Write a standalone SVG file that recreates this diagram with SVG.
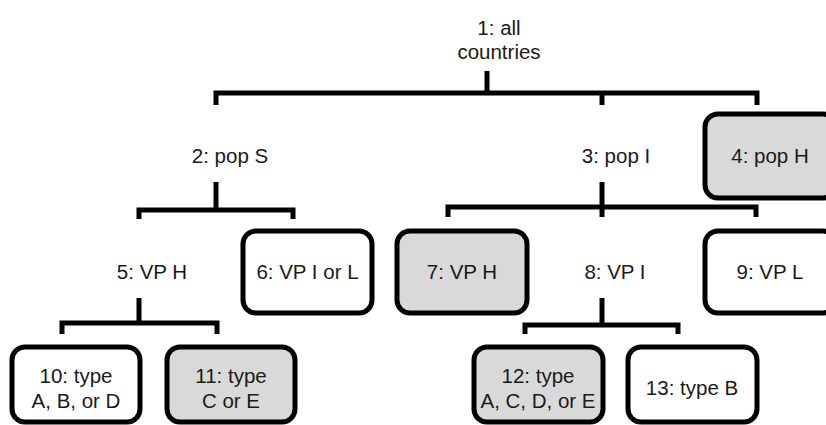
<svg xmlns="http://www.w3.org/2000/svg" width="826" height="425" viewBox="0 0 826 425">
<style>
  .box { stroke: #000; stroke-width: 5; fill: #fff; }
  .grey { fill: #d9d9d9; }
  .lbl { font-family: "Liberation Sans", Arial, sans-serif; font-size: 20.5px; fill: #1a1a1a; text-anchor: middle; }
  .con { stroke: #000; stroke-width: 5; fill: none; stroke-linecap: butt; stroke-linejoin: miter; }
</style>
<rect width="826" height="425" fill="#fff"/>
<g id="connectors">
  <path class="con" d="M487,71 V93"/>
  <path class="con" d="M216,105 V93 H757 V105"/>
  <path class="con" d="M602,93 V105"/>
  <path class="con" d="M216,182 V210"/>
  <path class="con" d="M139,219 V210 H293 V219"/>
  <path class="con" d="M602,182 V217"/>
  <path class="con" d="M448,217 V207 H756 V217"/>
  <path class="con" d="M139,298 V323"/>
  <path class="con" d="M62,334 V323 H217 V334"/>
  <path class="con" d="M602,298 V325"/>
  <path class="con" d="M525,334 V325 H678 V334"/>
</g>
<g id="n1"><text class="lbl" x="499" y="35">1: all</text><text class="lbl" x="499" y="59">countries</text></g>
<g id="n2"><text class="lbl" x="230" y="163">2: pop S</text></g>
<g id="n3"><text class="lbl" x="616" y="163">3: pop I</text></g>
<g id="n4"><rect class="box grey" x="705" y="114" width="131" height="84" rx="13"/><text class="lbl" x="770" y="163">4: pop H</text></g>
<g id="n5"><text class="lbl" x="152" y="279">5: VP H</text></g>
<g id="n6"><rect class="box" x="243" y="231" width="129" height="82" rx="13"/><text class="lbl" x="307.5" y="279">6: VP I or L</text></g>
<g id="n7"><rect class="box grey" x="397" y="231" width="130" height="82" rx="13"/><text class="lbl" x="462" y="279">7: VP H</text></g>
<g id="n8"><text class="lbl" x="615" y="279">8: VP I</text></g>
<g id="n9"><rect class="box" x="705" y="231" width="131" height="82" rx="13"/><text class="lbl" x="770" y="279">9: VP L</text></g>
<g id="n10"><rect class="box" x="12" y="347" width="128" height="75" rx="13"/><text class="lbl" x="76" y="383">10: type</text><text class="lbl" x="76" y="408">A, B, or D</text></g>
<g id="n11"><rect class="box grey" x="167" y="347" width="128" height="75" rx="13"/><text class="lbl" x="231" y="383">11: type</text><text class="lbl" x="231" y="408">C or E</text></g>
<g id="n12"><rect class="box grey" x="474" y="347" width="129" height="75" rx="13"/><text class="lbl" x="538" y="383">12: type</text><text class="lbl" x="538" y="408">A, C, D, or E</text></g>
<g id="n13"><rect class="box" x="628" y="347" width="129" height="75" rx="13"/><text class="lbl" x="692" y="395">13: type B</text></g>
</svg>
